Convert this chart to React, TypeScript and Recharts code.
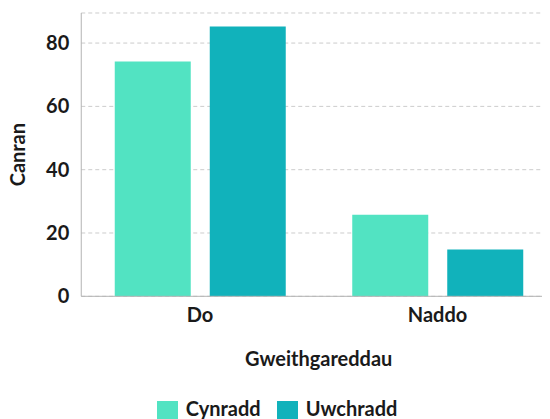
import React from "react";
import {
  BarChart,
  Bar,
  XAxis,
  YAxis,
  CartesianGrid,
  Legend,
  Label,
} from "recharts";

const categories = ["Do", "Naddo"];
const cynradd = [74.2, 25.8];
const uwchradd = [85.2, 14.8];
const yTicks = [0, 20, 40, 60, 80];

const data = categories.map((name, i) => ({
  name,
  Cynradd: cynradd[i],
  Uwchradd: uwchradd[i],
}));

const font = "Lato, 'Noto Sans', sans-serif";
const tickStyle = { fontFamily: font, fontSize: 20, fontWeight: 700, fill: "#1a1a1a" };

export default function App() {
  return (
    <div style={{ fontFamily: font }}>
      <BarChart
        width={550}
        height={418.3}
        data={data}
        margin={{ top: 5, right: 1.75, left: 0, bottom: 0 }}
        barGap={19}
        barCategoryGap={33.5}
      >
        <CartesianGrid vertical={false} stroke="#cccccc" strokeDasharray="4 3" />
        <XAxis
          dataKey="name"
          tickLine={false}
          axisLine={{ stroke: "#b3b3b3" }}
          tick={tickStyle}
          tickMargin={6}
          height={100}
        >
          <Label
            value="Gweithgareddau"
            position="insideBottom"
            offset={30}
            style={tickStyle}
          />
        </XAxis>
        <YAxis
          domain={[0, 89.5]}
          ticks={yTicks}
          tickLine={false}
          axisLine={{ stroke: "#b3b3b3" }}
          tick={tickStyle}
          tickMargin={6}
          width={73.25}
        >
          <Label
            value="Canran"
            angle={-90}
            position="insideLeft"
            offset={10}
            style={{ ...tickStyle, textAnchor: "middle" }}
          />
        </YAxis>
        <Legend
          verticalAlign="bottom"
          iconType="square"
          iconSize={21}
          wrapperStyle={{ height: 30, fontSize: 20, fontWeight: 700, color: "#1a1a1a" }}
          formatter={(value) => (
            <span
              style={{
                color: "#1a1a1a",
                marginLeft: 4,
                marginRight: value === "Cynradd" ? 6 : 0,
              }}
            >
              {value}
            </span>
          )}
        />
        <Bar dataKey="Cynradd" fill="#52e3c2" isAnimationActive={false} />
        <Bar dataKey="Uwchradd" fill="#11b2bb" isAnimationActive={false} />
      </BarChart>
    </div>
  );
}
